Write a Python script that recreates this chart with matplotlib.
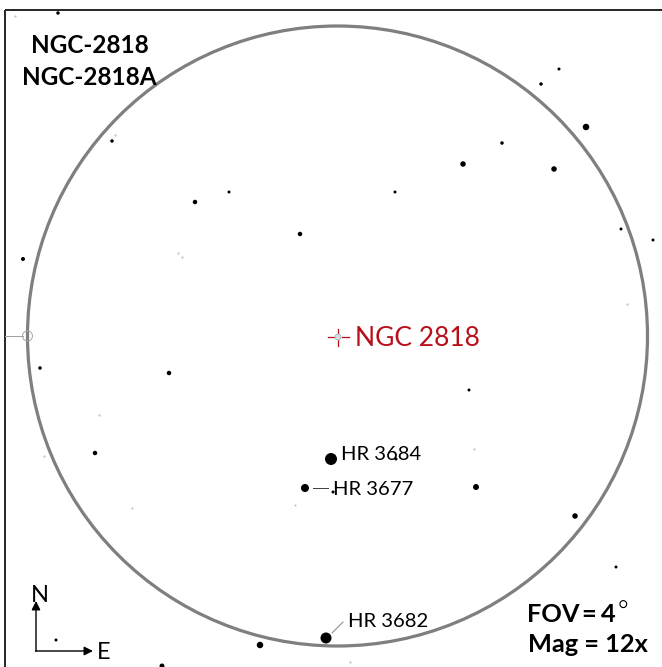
import matplotlib
matplotlib.use("Agg")
import matplotlib.pyplot as plt
from matplotlib.patches import Circle, Rectangle, FancyArrowPatch
import numpy as np

# ---- data (chart coordinates: pixels from top-left of the finder chart) ----
star_x = [58, 112, 195, 229, 300, 23, 395, 463, 502, 541, 559, 586, 554, 621, 653,
          40, 169, 95, 469, 331, 305, 396, 333, 476, 575, 616, 56, 326, 260, 162]
star_y = [13, 141, 202, 192, 234, 259, 192, 164, 143, 84, 69, 127, 169, 229, 240,
          368, 373, 453, 390, 459, 488, 459, 492, 487, 516, 567, 640, 638, 645, 666]
star_d = [3.5, 3.5, 4.5, 3, 4.5, 4, 3, 5.5, 3.5, 3.5, 3, 6.5, 5.5, 3, 3,
          3.5, 4.5, 4.5, 3, 12, 8, 3, 3, 6, 5.5, 3, 3, 11, 6.5, 5]
faint_x = [15, 115, 178, 182, 627, 99, 44, 132, 295, 474, 350]
faint_y = [16, 135, 253, 257, 304, 415, 456, 508, 505, 449, 662]

fov_center = (337.5, 336.0)
fov_radius = 310.0

title_lines = ["NGC-2818", "NGC-2818A"]
target_label = "NGC 2818"
star_labels = ["HR 3684", "HR 3677", "HR 3682"]
fov_parts = ["FOV", "=", "4", "\u00b0"]
mag_line = "Mag = 12x"

W, H = 662, 667
fig = plt.figure(figsize=(W / 100, H / 100), dpi=100)
ax = fig.add_axes([0, 0, 1, 1])
ax.set_xlim(0, W)
ax.set_ylim(H, 0)
ax.axis("off")

px = 0.72  # points per pixel

# frame
ax.add_patch(Rectangle((5, 10), 800, 800, fill=False, ec="#2a2a2a", lw=2 * px, zorder=1))

# FOV circle
ax.add_patch(Circle(fov_center, fov_radius, fill=False, ec="#7f7f7f", lw=3.2 * px, zorder=2))

# left edge marker
ax.plot([5, 23], [336, 336], color="#a0a0a0", lw=1 * px, zorder=2)
ax.add_patch(Circle((27.5, 336), 5, fill=False, ec="#a8a8a8", lw=1 * px, zorder=3))

# stars
sizes = [(px * d) ** 2 for d in star_d]
ax.scatter(star_x, star_y, s=sizes, c="black", linewidths=0, zorder=5)
ax.scatter(faint_x, faint_y, s=(px * 2.2) ** 2, c="#c4c4c4", linewidths=0, zorder=4)

# target crosshair
cx, cy = 338, 337
red = "#b8101a"
ax.plot([328, 334], [cy, cy], color=red, lw=1.3 * px, zorder=6)
ax.plot([342, 349], [cy, cy], color=red, lw=1.3 * px, zorder=6)
ax.plot([cx, cx], [329, 334], color=red, lw=1.3 * px, zorder=6)
ax.plot([cx, cx], [340, 346], color=red, lw=1.3 * px, zorder=6)
ax.add_patch(Circle((cx, cy), 3, fill=True, fc="#d5dde0", ec="#9fb4bb", lw=0.8 * px, zorder=7))

font = "Lato"
# titles
ax.text(89.5, 53, title_lines[0], fontsize=17.5, fontweight="bold", family=font,
        ha="center", va="baseline", color="black", zorder=8)
ax.text(89, 85, title_lines[1], fontsize=17.5, fontweight="bold", family=font,
        ha="center", va="baseline", color="black", zorder=8)

ax.text(355, 346, target_label, fontsize=19, family=font, color=red,
        ha="left", va="baseline", zorder=8)

ax.text(341, 460, star_labels[0], fontsize=14.6, family=font, color="black",
        ha="left", va="baseline", zorder=8)
ax.plot([313, 328], [488, 488], color="#444444", lw=1 * px, zorder=6)
ax.text(333, 495, star_labels[1], fontsize=14.6, family=font, color="black",
        ha="left", va="baseline", zorder=8)
ax.plot([332, 343], [633, 622], color="#888888", lw=1 * px, zorder=6)
ax.text(348, 627, star_labels[2], fontsize=14.6, family=font, color="black",
        ha="left", va="baseline", zorder=8)

# FOV line, set piece by piece to keep the tight spacing of the original
fov_x = [527, 581, 601, 616]
for xx, part in zip(fov_x[:3], fov_parts[:3]):
    ax.text(xx, 622, part, fontsize=18.3, fontweight="bold", family=font,
            ha="left", va="baseline", color="black", zorder=8)
ax.text(fov_x[3], 622, fov_parts[3], fontsize=21, family="DejaVu Sans", fontweight="light",
        ha="left", va="baseline", color="black", zorder=8)
ax.text(528, 652, mag_line, fontsize=18.3, fontweight="bold", family=font,
        ha="left", va="baseline", color="black", zorder=8)

# compass arrows
ax.add_patch(FancyArrowPatch((36, 651), (36, 601), arrowstyle="-|>", mutation_scale=13,
                             color="black", lw=1.4 * px, shrinkA=0, shrinkB=0, zorder=8))
ax.add_patch(FancyArrowPatch((35.5, 651), (93, 651), arrowstyle="-|>", mutation_scale=13,
                             color="black", lw=1.4 * px, shrinkA=0, shrinkB=0, zorder=8))
ax.text(31, 602, "N", fontsize=17, family=font, ha="left", va="baseline", zorder=8)
ax.text(97, 659, "E", fontsize=17, family=font, ha="left", va="baseline", zorder=8)

fig.savefig("out.png", dpi=100)
